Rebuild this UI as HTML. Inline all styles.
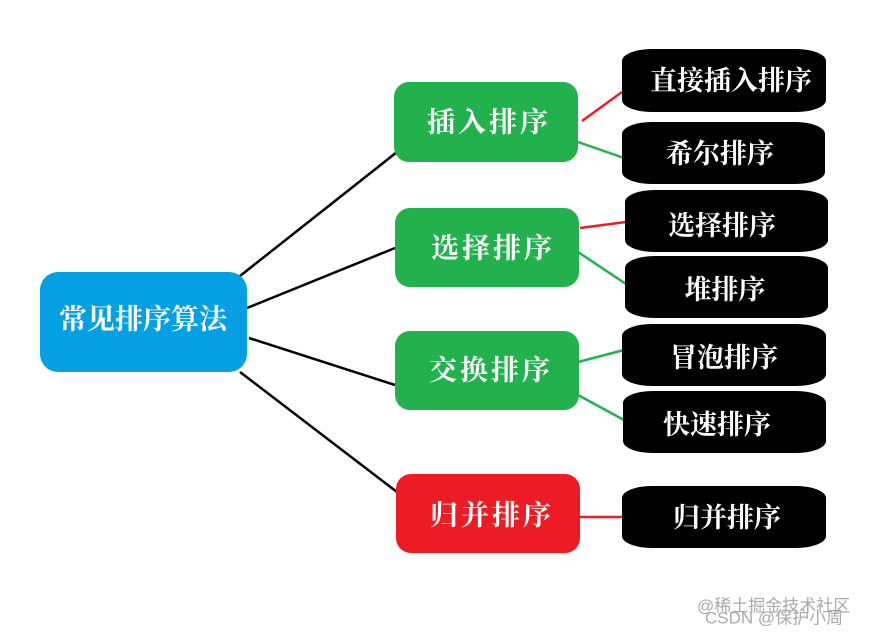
<!DOCTYPE html>
<html><head><meta charset="utf-8"><style>
html,body{margin:0;padding:0;background:#fff;}
svg{display:block;}
text{font-family:"Liberation Serif","Noto Serif CJK SC",serif;fill:#fff;text-anchor:middle;dominant-baseline:central;font-weight:bold;}
.g{font-size:28px;letter-spacing:3px;}
.b{font-size:27px;}
.w{font-family:"Liberation Sans","Noto Sans CJK SC",sans-serif;fill:#aaa;font-size:17px;text-anchor:start;font-weight:normal;}
</style></head><body>
<svg width="873" height="635" viewBox="0 0 873 635" xmlns="http://www.w3.org/2000/svg">
<g stroke="#000" stroke-width="2.5">
<line x1="240" y1="276" x2="397" y2="152"/>
<line x1="247" y1="308" x2="395" y2="248"/>
<line x1="249" y1="338" x2="395" y2="385"/>
<line x1="240" y1="372" x2="397" y2="492"/>
</g>
<g stroke-width="2.5">
<line x1="582" y1="121" x2="622" y2="92" stroke="#ed1c24"/>
<line x1="578" y1="142" x2="624" y2="158" stroke="#22b14c"/>
<line x1="580" y1="228" x2="626" y2="222" stroke="#ed1c24"/>
<line x1="578" y1="252" x2="626" y2="284" stroke="#22b14c"/>
<line x1="578" y1="362" x2="624" y2="350" stroke="#22b14c"/>
<line x1="578" y1="395" x2="624" y2="420" stroke="#22b14c"/>
<line x1="580" y1="517" x2="622" y2="517" stroke="#ed1c24"/>
</g>
<rect x="40" y="272" width="207" height="100" rx="18" fill="#05a0e4"/>
<text x="143" y="320" style="font-size:28px">常见排序算法</text>
<rect x="394" y="82" width="184" height="80" rx="15" fill="#22b14c"/>
<text class="g" x="489" y="123">插入排序</text>
<rect x="395" y="208" width="184" height="79" rx="15" fill="#22b14c"/>
<text class="g" x="493" y="249">选择排序</text>
<rect x="395" y="331" width="184" height="79" rx="15" fill="#22b14c"/>
<text class="g" x="491" y="371">交换排序</text>
<rect x="396" y="474" width="184" height="79" rx="15" fill="#ed1c24"/>
<text class="g" x="492" y="516">归并排序</text>
<g fill="#000">
<rect x="622" y="49" width="204" height="63" rx="30" ry="12"/>
<rect x="622" y="122" width="203" height="62" rx="30" ry="12"/>
<rect x="625" y="190" width="203" height="62" rx="30" ry="12"/>
<rect x="625" y="256" width="203" height="62" rx="30" ry="12"/>
<rect x="622" y="324" width="204" height="62" rx="30" ry="12"/>
<rect x="623" y="391" width="203" height="62" rx="30" ry="12"/>
<rect x="622" y="486" width="204" height="62" rx="30" ry="12"/>
</g>
<text class="b" x="731" y="81">直接插入排序</text>
<text class="b" x="720" y="154">希尔排序</text>
<text class="b" x="722" y="226">选择排序</text>
<text class="b" x="725" y="290">堆排序</text>
<text class="b" x="724" y="358">冒泡排序</text>
<text class="b" x="717" y="425">快速排序</text>
<text class="b" x="727" y="518">归并排序</text>
<text class="w" x="697" y="606">@稀土掘金技术社区</text>
<text class="w" x="705" y="618">CSDN @保护小周</text>
</svg>
</body></html>
